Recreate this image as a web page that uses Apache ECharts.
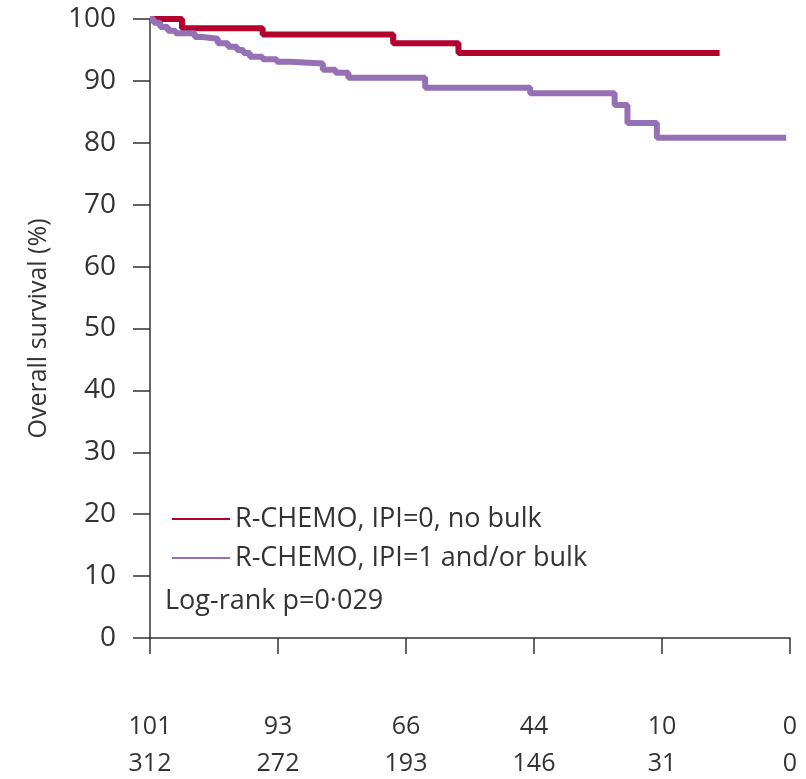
<!DOCTYPE html>
<html>
<head>
<meta charset="utf-8">
<script src="https://cdn.jsdelivr.net/npm/echarts@6/dist/echarts.min.js"></script>
<style>html,body{margin:0;padding:0;background:#fff;}#c{width:806px;height:779px;}</style>
</head>
<body>
<div id="c"></div>
<script>
// Years of follow-up (x) and overall survival (%) step points
const redTimes   = [0, 0.25, 0.88, 1.90, 2.41, 4.45];
const redValues  = [100, 98.5, 97.5, 96.1, 94.5, 94.5];
const purpleTimes  = [0, 0.03, 0.08, 0.14, 0.20, 0.35, 0.41, 0.53, 0.61, 0.68, 0.73, 0.78, 0.88, 0.99, 1.10, 1.35, 1.45, 1.55, 2.15, 2.97, 3.63, 3.73, 3.96, 4.97];
const purpleValues = [100, 99.4, 98.7, 98.1, 97.7, 97.1, 96.8, 96.1, 95.5, 95.0, 94.5, 93.9, 93.5, 93.1, 92.8, 91.8, 91.3, 90.5, 88.9, 88.0, 86.1, 83.2, 80.8, 80.8];
const xTicks = [0, 1, 2, 3, 4, 5];
const yTicks = [0, 10, 20, 30, 40, 50, 60, 70, 80, 90, 100];
const riskRed    = [101, 93, 66, 44, 10, 0];
const riskPurple = [312, 272, 193, 146, 31, 0];
const seriesNames = ['R-CHEMO, IPI=0, no bulk', 'R-CHEMO, IPI=1 and/or bulk'];
const pText = 'Log-rank p=0\u00b7029';

const FONT = '"Open Sans", "Noto Sans", sans-serif';
const TXT = '#333';
const RED = '#b4002f';
const PURPLE = '#9670b4';

const zip = (a, b) => a.map((v, i) => [v, b[i]]);

const chart = echarts.init(document.getElementById('c'));
chart.setOption({
  animation: false,
  backgroundColor: '#fff',
  grid: { left: 150, right: 16, top: 19, bottom: 141, containLabel: false, outerBoundsMode: 'none' },
  xAxis: {
    type: 'value', min: 0, max: 5, interval: 1, offset: 2,
    axisLine: { show: true, lineStyle: { color: TXT, width: 1.5 } },
    axisTick: { show: true, length: 16, lineStyle: { color: TXT, width: 1.5 } },
    splitLine: { show: false },
    axisLabel: {
      margin: 68, fontFamily: FONT, fontSize: 25, color: TXT, lineHeight: 37,
      formatter: (v) => { const i = xTicks.indexOf(v); return i < 0 ? '' : riskRed[i] + '\n' + riskPurple[i]; }
    }
  },
  yAxis: {
    type: 'value', min: 0, max: 100, interval: 10, offset: 2,
    name: 'Overall survival (%)', nameLocation: 'middle', nameRotate: 90, nameGap: 97,
    nameTextStyle: { fontFamily: FONT, fontSize: 25, color: TXT },
    axisLine: { show: true, lineStyle: { color: TXT, width: 1.5 } },
    axisTick: { show: true, length: 17, lineStyle: { color: TXT, width: 1.5 } },
    splitLine: { show: false },
    axisLabel: { margin: 32, fontFamily: FONT, fontSize: 28, color: TXT }
  },
  legend: {
    orient: 'vertical', left: 172, top: 503, padding: 0, itemGap: 7,
    itemWidth: 58, itemHeight: 2, icon: 'rect',
    textStyle: { fontFamily: FONT, fontSize: 27, color: TXT, lineHeight: 32, padding: [0, 0, 0, 0] },
    data: seriesNames
  },
  graphic: [{
    type: 'text', left: 165, top: 588,
    style: { text: pText, fontFamily: FONT, fontSize: 27, fill: TXT }
  }],
  series: [
    { name: seriesNames[0], type: 'line', step: 'end', showSymbol: false, clip: false,
      data: zip(redTimes, redValues), lineStyle: { color: RED, width: 6 }, itemStyle: { color: RED } },
    { name: seriesNames[1], type: 'line', step: 'end', showSymbol: false, clip: false,
      data: zip(purpleTimes, purpleValues), lineStyle: { color: PURPLE, width: 6 }, itemStyle: { color: PURPLE } }
  ]
});
</script>
</body>
</html>
